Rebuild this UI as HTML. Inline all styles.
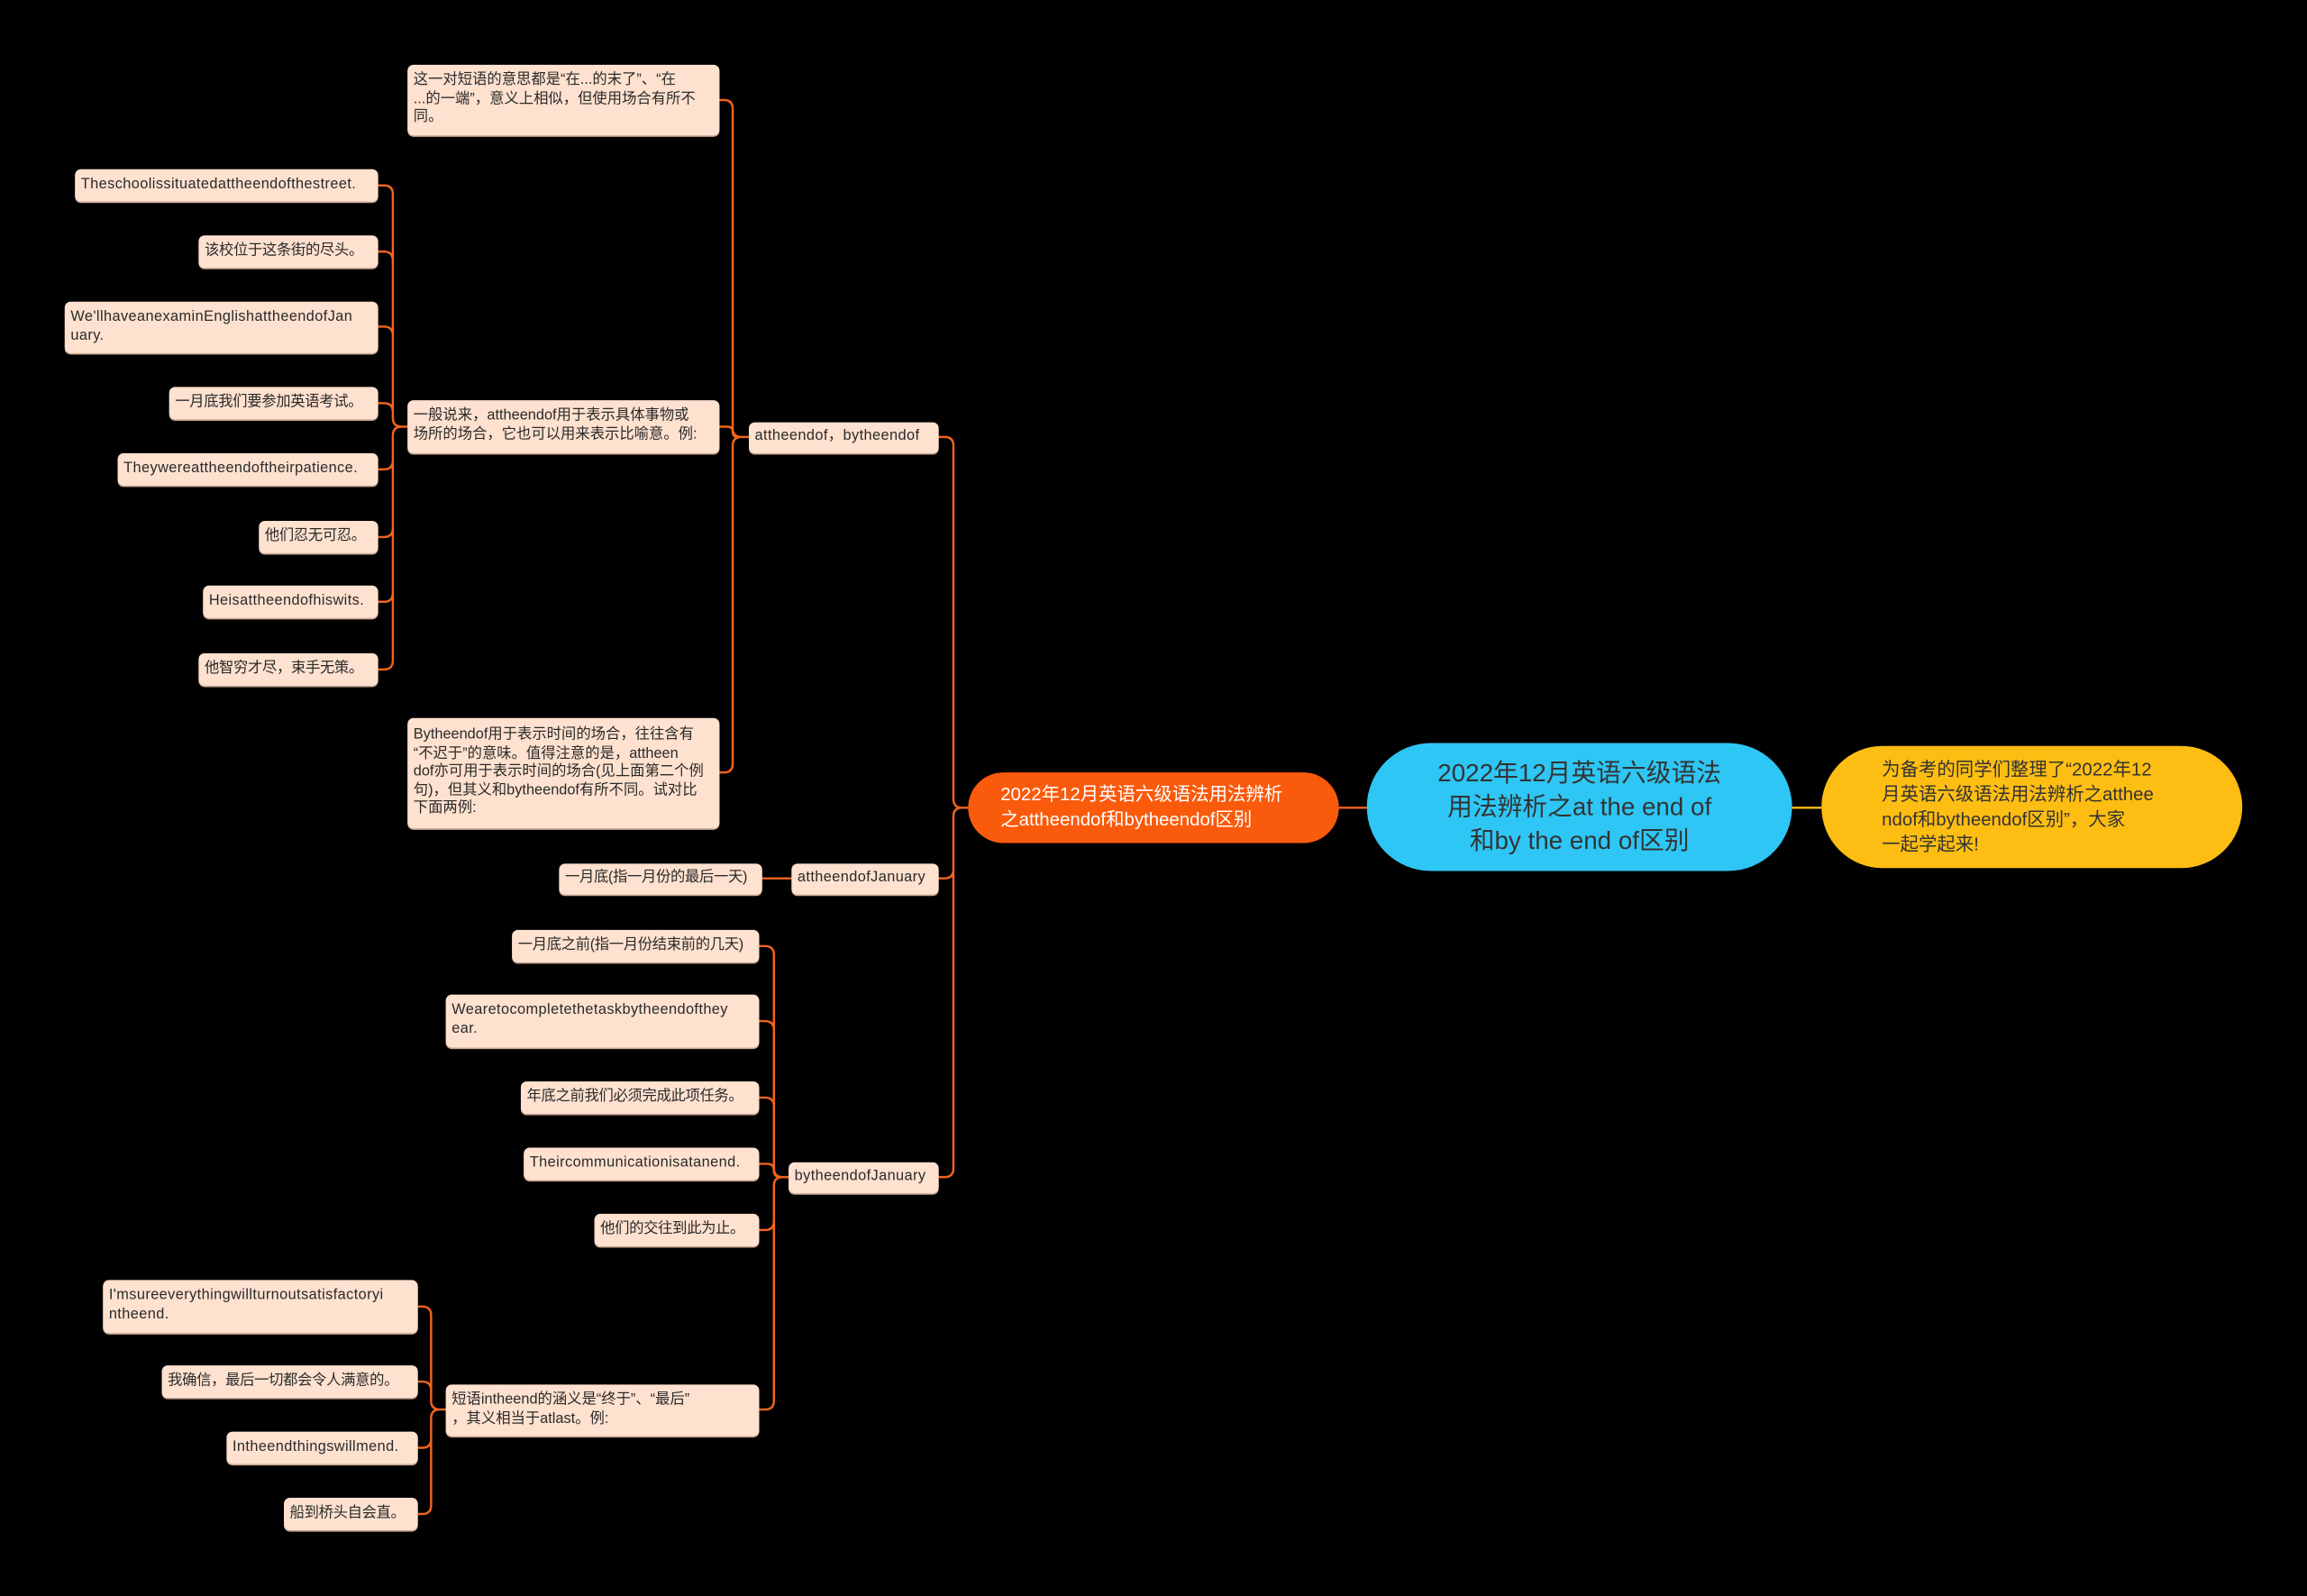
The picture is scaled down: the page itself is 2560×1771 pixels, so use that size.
<!DOCTYPE html>
<html><head><meta charset="utf-8"><style>
html,body{margin:0;padding:0;background:#000;width:2560px;height:1771px;overflow:hidden}
#c{position:absolute;left:0;top:0;width:1568px;height:1085px;transform:scale(1.63265);transform-origin:0 0;font-family:"Liberation Sans","Noto Sans CJK SC",sans-serif}
.n{position:absolute;box-sizing:border-box;background:#ffe1cf;color:#2a2a2a;border-radius:4px;font-size:10px;line-height:12.6px;padding:3px 4px;display:flex;align-items:center;white-space:nowrap;box-shadow:0 1px 0 #c9a892}
.o{letter-spacing:-0.2px}
.l{letter-spacing:0.25px}
svg{position:absolute;left:0;top:0}
</style></head><body><div id="c">
<svg width="1568" height="1085" id="s"></svg>
<div class="n" style="left:277px;top:44px;width:212px;height:48px">这一对短语的意思都是“在...的末了”、“在<br>...的一端”，意义上相似，但使用场合有所不<br>同。</div>
<div class="n l" style="left:51px;top:115px;width:206px;height:22px">Theschoolissituatedattheendofthestreet.</div>
<div class="n o" style="left:135px;top:160px;width:122px;height:22px">该校位于这条街的尽头。</div>
<div class="n l" style="left:44px;top:205px;width:213px;height:35px">We'llhaveanexaminEnglishattheendofJan<br>uary.</div>
<div class="n o" style="left:115px;top:263px;width:142px;height:22px">一月底我们要参加英语考试。</div>
<div class="n l" style="left:80px;top:308px;width:177px;height:22px">Theywereattheendoftheirpatience.</div>
<div class="n o" style="left:176px;top:354px;width:81px;height:22px">他们忍无可忍。</div>
<div class="n l" style="left:138px;top:398px;width:119px;height:22px">Heisattheendofhiswits.</div>
<div class="n o" style="left:135px;top:444px;width:122px;height:22px">他智穷才尽，束手无策。</div>
<div class="n" style="left:277px;top:272px;width:212px;height:36px">一般说来，attheendof用于表示具体事物或<br>场所的场合，它也可以用来表示比喻意。例:</div>
<div class="n" style="left:277px;top:488px;width:212px;height:75px">Bytheendof用于表示时间的场合，往往含有<br>“不迟于”的意味。值得注意的是，attheen<br>dof亦可用于表示时间的场合(见上面第二个例<br>句)，但其义和bytheendof有所不同。试对比<br>下面两例:</div>
<div class="n l" style="left:509px;top:287px;width:129px;height:21px">attheendof，bytheendof</div>
<div class="n o" style="left:380px;top:587px;width:138px;height:21px">一月底(指一月份的最后一天)</div>
<div class="n l" style="left:538px;top:587px;width:100px;height:21px">attheendofJanuary</div>
<div class="n o" style="left:348px;top:632px;width:168px;height:22px">一月底之前(指一月份结束前的几天)</div>
<div class="n l" style="left:303px;top:676px;width:213px;height:36px">Wearetocompletethetaskbytheendofthey<br>ear.</div>
<div class="n o" style="left:354px;top:735px;width:162px;height:22px">年底之前我们必须完成此项任务。</div>
<div class="n l" style="left:356px;top:780px;width:160px;height:22px">Theircommunicationisatanend.</div>
<div class="n o" style="left:404px;top:825px;width:112px;height:22px">他们的交往到此为止。</div>
<div class="n" style="left:303px;top:941px;width:213px;height:35px">短语intheend的涵义是“终于”、“最后”<br>，其义相当于atlast。例:</div>
<div class="n l" style="left:536px;top:790px;width:102px;height:21px">bytheendofJanuary</div>
<div class="n l" style="left:70px;top:870px;width:214px;height:36px">I'msureeverythingwillturnoutsatisfactoryi<br>ntheend.</div>
<div class="n o" style="left:110px;top:928px;width:174px;height:22px">我确信，最后一切都会令人满意的。</div>
<div class="n l" style="left:154px;top:973px;width:130px;height:22px">Intheendthingswillmend.</div>
<div class="n o" style="left:193px;top:1018px;width:91px;height:22px">船到桥头自会直。</div>
<div style="position:absolute;left:658px;top:525px;width:252px;height:48px;border-radius:24px;background:#fa5a0c;color:#fff;font-size:12.5px;line-height:17px;box-sizing:border-box;padding:6px 22px;display:flex;align-items:center;white-space:nowrap">2022年12月英语六级语法用法辨析<br>之attheendof和bytheendof区别</div>
<div style="position:absolute;left:929px;top:505px;width:289px;height:87px;border-radius:44px;background:#2ec6f4;color:#333;font-size:17px;line-height:23px;box-sizing:border-box;padding:8px 20px;display:flex;align-items:center;justify-content:center;text-align:center;white-space:nowrap">2022年12月英语六级语法<br>用法辨析之at the end of<br>和by the end of区别</div>
<div style="position:absolute;left:1238px;top:507px;width:286px;height:83px;border-radius:42px;background:#fdbd12;color:#333;font-size:12.5px;line-height:17px;box-sizing:border-box;padding:6px 20px 6px 41px;display:flex;align-items:center;white-space:nowrap">为备考的同学们整理了“2022年12<br>月英语六级语法用法辨析之atthee<br>ndof和bytheendof区别”，大家<br>一起学起来!</div>
</div>
<script>
var s=document.getElementById('s'),d='';
function br(px,py,sx,cx,ys){ys.forEach(function(cy){var r=Math.min(6,Math.abs(cy-py)/2),dir=cy>py?1:-1;
if(Math.abs(cy-py)<1){d+='M'+px+' '+py+'H'+cx;return;}
d+='M'+px+' '+py+'H'+(sx+r)+'Q'+sx+' '+py+' '+sx+' '+(py+dir*r)+'V'+(cy-dir*r)+'Q'+sx+' '+cy+' '+(sx-r)+' '+cy+'H'+cx;});}
br(658,549,648,638,[297,597,800]);
br(509,297,498,489,[68,290,525]);
br(277,290,267,257,[126,171,222,274,319,365,409,455]);
br(538,597,528,518,[597]);
br(536,800,526,516,[643,694,746,791,836,958]);
br(303,958,293,284,[888,939,984,1029]);
br(929,549,920,910,[549]);
s.innerHTML='<path d="'+d+'" fill="none" stroke="#f0641e" stroke-width="1.5"/><path d="M1218 549H1238" stroke="#fdbd12" stroke-width="1.5"/>';
</script>
</body></html>
